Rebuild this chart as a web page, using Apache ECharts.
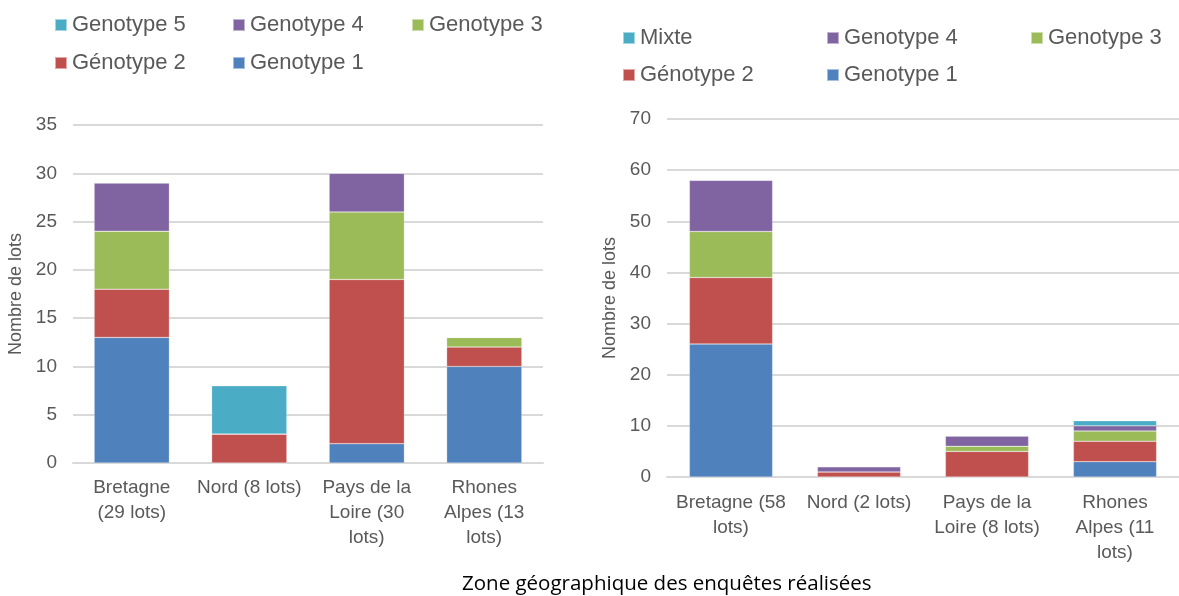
<!DOCTYPE html>
<html>
<head>
<meta charset="utf-8">
<script src="https://cdn.jsdelivr.net/npm/echarts@6/dist/echarts.min.js"></script>
<style>
  html, body { margin: 0; padding: 0; background: #fff; }
  #main { width: 1179px; height: 596px; }
</style>
</head>
<body>
<div id="main"></div>
<script>
// graphique de gauche
var zonesA = ['Bretagne\n(29 lots)', 'Nord (8 lots)', 'Pays de la\nLoire (30\nlots)', 'Rhones\nAlpes (13\nlots)'];
var g1A = [13, 0, 2, 10];
var g2A = [5, 3, 17, 2];
var g3A = [6, 0, 7, 1];
var g4A = [5, 0, 4, 0];
var g5A = [0, 5, 0, 0];

// graphique de droite
var zonesB = ['Bretagne (58\nlots)', 'Nord (2 lots)', 'Pays de la\nLoire (8 lots)', 'Rhones\nAlpes (11\nlots)'];
var g1B = [26, 0, 0, 3];
var g2B = [13, 1, 5, 4];
var g3B = [9, 0, 1, 2];
var g4B = [10, 1, 2, 1];
var mixteB = [0, 0, 0, 1];

var couleurs = {
  'Genotype 1': '#4F81BD',
  'Génotype 2': '#C0504D',
  'Genotype 3': '#9BBB59',
  'Genotype 4': '#8064A2',
  'Genotype 5': '#4BACC6',
  'Mixte': '#4BACC6'
};

var txt = '#595959';
var police = "'Liberation Sans', Arial, sans-serif";

function serie(nom, data, idx, largeur) {
  return {
    name: nom,
    type: 'bar',
    stack: 'tot' + idx,
    xAxisIndex: idx,
    yAxisIndex: idx,
    barWidth: largeur,
    data: data,
    itemStyle: { color: couleurs[nom], borderColor: 'rgba(255,255,255,0.5)', borderWidth: 0.5 },
    emphasis: { disabled: true }
  };
}

function leg(nom, x, y) {
  return {
    data: [nom], left: x, top: y,
    itemWidth: 12, itemHeight: 12, itemGap: 0,
    icon: 'rect',
    textStyle: { fontSize: 22, color: txt, fontFamily: police }
  };
}

function axeX(zones, idx, marge) {
  return {
    type: 'category', gridIndex: idx, data: zones,
    axisTick: { show: false },
    axisLine: { lineStyle: { color: '#d9d9d9', width: 2 } },
    axisLabel: { color: txt, fontSize: 19, lineHeight: 25, margin: marge, fontFamily: police, interval: 0 }
  };
}

function axeY(idx, max, pas, gap) {
  return {
    type: 'value', gridIndex: idx, min: 0, max: max, interval: pas,
    name: 'Nombre de lots', nameLocation: 'middle', nameGap: gap,
    nameTextStyle: { color: txt, fontSize: 18, fontFamily: police },
    axisLabel: { color: txt, fontSize: 19, margin: 16, fontFamily: police },
    splitLine: { lineStyle: { color: '#d9d9d9', width: 2 } },
    axisLine: { show: false }, axisTick: { show: false }
  };
}

var chart = echarts.init(document.getElementById('main'), null, { renderer: 'canvas' });

var option = {
  backgroundColor: '#ffffff',
  animation: false,
  title: {
    text: 'Zone géographique des enquêtes réalisées',
    left: 457, top: 569,
    textStyle: { fontSize: 20.5, fontWeight: 'normal', color: '#000', fontFamily: "'Open Sans', sans-serif" }
  },
  legend: [
    leg('Genotype 5', 49, 9), leg('Genotype 4', 227, 9), leg('Genotype 3', 406, 9),
    leg('Génotype 2', 49, 47), leg('Genotype 1', 227, 47),
    leg('Mixte', 617, 22), leg('Genotype 4', 821, 22), leg('Genotype 3', 1025, 22),
    leg('Génotype 2', 617, 59), leg('Genotype 1', 821, 59)
  ],
  grid: [
    { left: 73, width: 470, top: 125, height: 338 },
    { left: 667, width: 524, top: 119, height: 358 }
  ],
  xAxis: [axeX(zonesA, 0, 12), axeX(zonesB, 1, 13)],
  yAxis: [axeY(0, 35, 5, 48), axeY(1, 70, 10, 48)],
  series: [
    serie('Genotype 1', g1A, 0, '64%'),
    serie('Génotype 2', g2A, 0, '64%'),
    serie('Genotype 3', g3A, 0, '64%'),
    serie('Genotype 4', g4A, 0, '64%'),
    serie('Genotype 5', g5A, 0, '64%'),
    serie('Genotype 1', g1B, 1, '65%'),
    serie('Génotype 2', g2B, 1, '65%'),
    serie('Genotype 3', g3B, 1, '65%'),
    serie('Genotype 4', g4B, 1, '65%'),
    serie('Mixte', mixteB, 1, '65%')
  ]
};

chart.setOption(option);
</script>
</body>
</html>
